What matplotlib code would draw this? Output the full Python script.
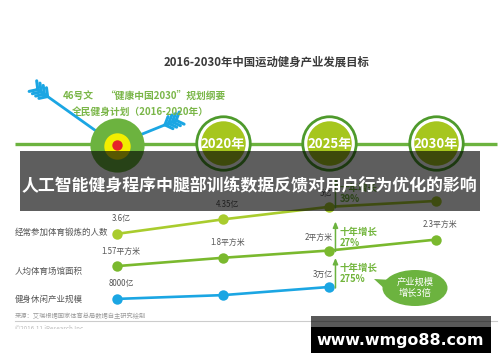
import matplotlib.pyplot as plt
import numpy as np
from matplotlib.patches import Rectangle, Ellipse, Polygon
from matplotlib.transforms import offset_copy

plt.rcParams['font.family'] = ['Noto Sans CJK SC', 'DejaVu Sans']

# ---- data ----
years = ['2016', '2020', '2025', '2030']
year_badges = ['2020年', '2025年', '2030年']
row_names = ['经常参加体育锻炼的人数', '人均体育场馆面积', '健身休闲产业规模']
people = [3.6, 4.35, 5.0, 5.3]            # 亿人
people_labels = ['3.6亿', '4.35亿', '5亿', '']
area = [1.57, 1.8, 2.0, 2.3]              # 平方米
area_labels = ['1.57平方米', '1.8平方米', '2平方米', '2.3平方米']
industry = [0.8, 1.5, 3.0]                # 万亿
industry_labels = ['8000亿', '', '3万亿']
growth = ['39%', '27%', '275%']

title = '2016-2030年中国运动健身产业发展目标'
overlay_title = '人工智能健身程序中腿部训练数据反馈对用户行为优化的影响'

GREEN = '#6cb33f'
DARK_GREEN = '#4e9a2c'
LIME = '#a6c61e'
BLUE = '#1ba6e3'
GRAY = '#555555'

fig = plt.figure(figsize=(5, 3.62), dpi=100)
fig.patch.set_facecolor('white')


def layer(xlim, ylim, z):
    a = fig.add_axes([0, 0, 1, 1], zorder=z)
    a.set_xlim(*xlim)
    a.set_ylim(*ylim)
    a.axis('off')
    return a


CAT_X = (-1.099, 3.604)
base = layer((0, 500), (362, 0), 0)
tl = layer(CAT_X, (362, 0), 1)
row_lims = [(-3.025, 15.69), (-1.0715, 8.901), (-10.81, 55.81)]
rows = [layer(CAT_X, lim, 2) for lim in row_lims]
top = layer((0, 500), (362, 0), 3)

# title + policy texts
base.text(267, 62, title, ha='center', va='center', fontsize=8.2,
          weight='bold', color='#3a3a3a')
base.text(63, 96, '46号文', ha='left', va='center', fontsize=7,
          weight='bold', color='#7ab648')
base.text(105, 96, '“健康中国2030”规划纲要', ha='left', va='center',
          fontsize=7, weight='bold', color='#7ab648')
base.text(140, 112, '全民健身计划（2016-2020年）', ha='center', va='center',
          fontsize=7, weight='bold', color='#7ab648')

# timeline
base.plot([15, 497], [144, 144], color=GREEN, lw=2.4, solid_capstyle='butt')

# target at 2016
tl.plot([0], [145], 'o', ms=39, color=GREEN, mec='none')
tl.plot([0], [146], 'o', ms=19, color='#f2ee00', mec='none')
tl.plot([0], [145], 'o', ms=7.5, color='#e5202a', mec='none')

# arrows into the target
for tail, tip in [((37, 89), (113, 143)), ((177, 120), (120, 143))]:
    tail = np.array(tail, float)
    tip = np.array(tip, float)
    base.annotate('', xy=tip, xytext=tail,
                  arrowprops=dict(arrowstyle='-|>,head_length=0.55,head_width=0.3',
                                  color=BLUE, lw=2, shrinkA=0, shrinkB=0))
    d = (tip - tail) / np.linalg.norm(tip - tail)
    n = np.array([-d[1], d[0]])
    for s in [1, 5, 9, 13]:
        p = tail + d * s
        for sign in (1, -1):
            q = p - d * 6 + n * 6.5 * sign
            base.plot([p[0], q[0]], [p[1], q[1]], color=BLUE, lw=2.2,
                      solid_capstyle='round')

# year badges
for i, lab in enumerate(year_badges, start=1):
    tl.plot([i], [143], 'o', ms=40.5, color=DARK_GREEN, mec='none')
    tl.plot([i], [143], 'o', ms=36.5, color='white', mec='none')
    tl.plot([i], [143], 'o', ms=32, color=LIME, mec='none')
    tl.text(i, 144, lab, ha='center', va='center', fontsize=9.5,
            weight='bold', color='white')

# data rows
series = [people, area, industry]
labels = [people_labels, area_labels, industry_labels]
colors = ['#a9cc2e', '#7ab92e', BLUE]
label_y = [232, 271, 299]
for ax, vals, labs, col, name, ly, g in zip(rows, series, labels, colors,
                                           row_names, label_y, growth):
    ax.plot(range(len(vals)), vals, color=col, lw=1.9, marker='o', ms=7.5,
            mec='none', solid_capstyle='round')
    base.text(15, ly, name, ha='left', va='center', fontsize=6.1, color=GRAY)
    for i, (v, t) in enumerate(zip(vals, labs)):
        if not t:
            continue
        if i == 2:
            ax.annotate(t, (i, v), xytext=(3, 13), textcoords='offset pixels',
                        ha='right', va='center', fontsize=5.7, color=GRAY)
        else:
            ax.annotate(t, (i, v), xytext=(4, 15), textcoords='offset pixels',
                        ha='center', va='center', fontsize=5.7, color=GRAY)
    # ten-year growth marker at 2025
    tip_tr = offset_copy(ax.transData, fig=fig, x=6, y=29, units='dots')
    tail_tr = offset_copy(ax.transData, fig=fig, x=6, y=-1, units='dots')
    ax.annotate('', xy=(2, vals[2]), xycoords=tip_tr,
                xytext=(2, vals[2]), textcoords=tail_tr,
                arrowprops=dict(arrowstyle='-|>,head_length=0.35,head_width=0.15',
                                color=GREEN, lw=1.1, shrinkA=0, shrinkB=0))
    ax.annotate('十年增长', (2, vals[2]), xytext=(10, 19),
                textcoords='offset pixels', ha='left', va='center',
                fontsize=6.8, weight='bold', color='#72b53c')
    ax.annotate(g, (2, vals[2]), xytext=(10, 8), textcoords='offset pixels',
                ha='left', va='center', fontsize=6.8, weight='bold',
                color='#72b53c')

# speech bubble
base.add_patch(Polygon([(374, 279), (392, 280), (388, 292)], closed=True,
                       color=GREEN, lw=0))
base.add_patch(Ellipse((415, 288), 65, 36, color=GREEN, lw=0))
base.text(415, 288, '产业规模\n增长3倍', ha='center', va='center',
          fontsize=6.7, color='white', linespacing=1.3)

# source + footer
base.text(15, 316, '来源：艾瑞根据国家体育总局数据自主研究绘制', ha='left',
          va='center', fontsize=4.5, color='#9a9a9a')
base.plot([15, 497], [321, 321], color='#cccccc', lw=0.8)
base.text(15, 329, '©2016.11 iResearch Inc.', ha='left', va='center',
          fontsize=4.5, color='#bbbbbb')
base.add_patch(Rectangle((0, 329), 500, 40, color='white', lw=0, zorder=5))

# dark overlay banner
top.add_patch(Rectangle((20, 151), 460, 60, color='black', alpha=0.63, lw=0))
top.text(249, 186, overlay_title, ha='center', va='center', fontsize=12.2,
         weight='bold', color='white')

# watermark box
top.add_patch(Rectangle((311, 316), 180, 11, color='black', alpha=0.65, lw=0))
top.add_patch(Rectangle((311, 327), 180, 26, color='black', lw=0))
top.text(400, 340, 'www.wmgo88.com', ha='center', va='center', fontsize=11.4,
         weight='bold', color='white', family='DejaVu Sans')

fig.savefig('out.png', dpi=100, facecolor='white')
